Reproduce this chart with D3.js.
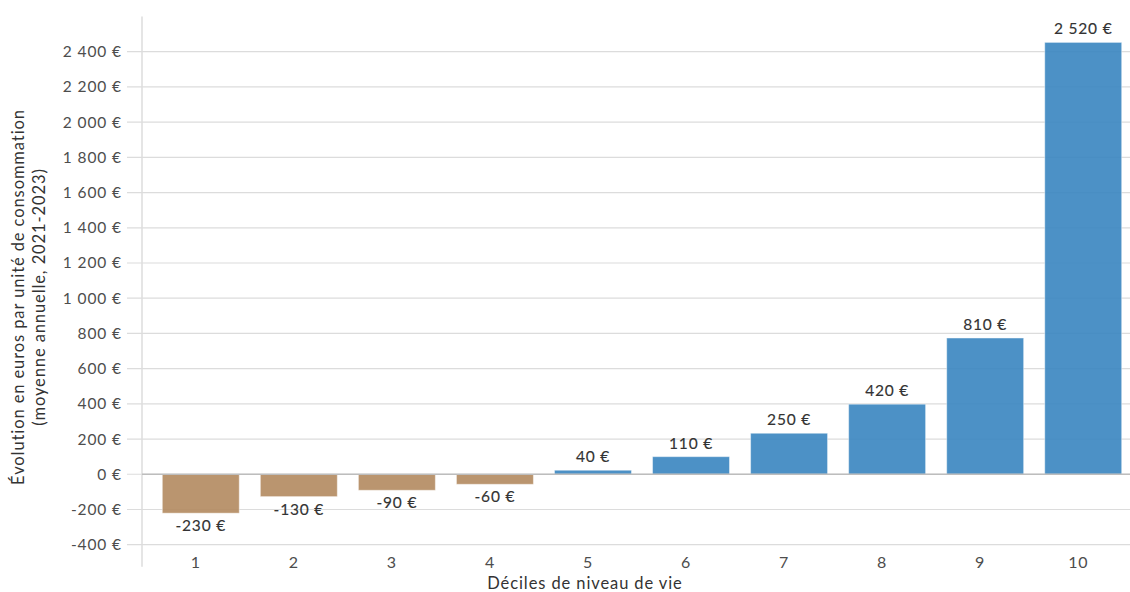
<!DOCTYPE html>
<html>
<head>
<meta charset="utf-8">
<script src="https://cdn.jsdelivr.net/npm/d3@7"></script>
<style>
  html, body { margin: 0; padding: 0; background: #fff; }
  svg { display: block; font-family: Lato, "Open Sans", sans-serif; }
</style>
</head>
<body>
<svg id="chart" width="1130" height="592"></svg>
<script>
// ---- data ----
const categories = ["1", "2", "3", "4", "5", "6", "7", "8", "9", "10"];
const barValues = [-221, -127, -91, -57, 23, 100, 233, 398, 774, 2453];
const labelValues = [-230, -130, -90, -60, 40, 110, 250, 420, 810, 2520];
const yTicks = [-400, -200, 0, 200, 400, 600, 800, 1000, 1200, 1400, 1600, 1800, 2000, 2200, 2400];
const yTitleLines = ["Évolution en euros par unité de consommation", "(moyenne annuelle, 2021-2023)"];
const xTitle = "Déciles de niveau de vie";

// ---- setup ----
const W = 1130, H = 592;
const svg = d3.select("#chart");
const locale = d3.formatLocale({ decimal: ",", thousands: "\u00a0", grouping: [3], currency: ["", ""], minus: "-" });
const fmt = v => locale.format(",")(v) + "\u00a0€";

const x = d3.scaleBand().domain(categories).range([142, 1142]).paddingInner(0.215).paddingOuter(0.207);
const y = d3.scaleLinear().domain([-525, 2600]).range([566.7, 16.5]);

// gridlines
svg.append("g").selectAll("line").data(yTicks).join("line")
  .attr("x1", 127).attr("x2", W)
  .attr("y1", d => y(d)).attr("y2", d => y(d))
  .attr("stroke", "#dcdcdc").attr("stroke-width", 1.2);

// y tick labels
svg.append("g").selectAll("text").data(yTicks).join("text")
  .attr("x", 122).attr("y", d => y(d) + 5.5)
  .attr("text-anchor", "end")
  .attr("font-size", 15.5).attr("letter-spacing", 0.9).attr("fill", "#4d4d4d")
  .text(d => fmt(d));

// vertical axis line
svg.append("line").attr("x1", 142).attr("x2", 142)
  .attr("y1", y(2600)).attr("y2", y(-525))
  .attr("stroke", "#dcdcdc").attr("stroke-width", 1.5);

// bars
svg.append("g").selectAll("rect").data(barValues).join("rect")
  .attr("x", (d, i) => x(categories[i]))
  .attr("width", x.bandwidth())
  .attr("y", d => y(Math.max(0, d)))
  .attr("height", d => Math.abs(y(d) - y(0)))
  .attr("fill", d => d < 0 ? "#b38a5f" : "#3985c0")
  .attr("fill-opacity", 0.9)
  .attr("stroke", "#ffffff").attr("stroke-opacity", 0.45).attr("stroke-width", 1);

// zero line
svg.append("line").attr("x1", 142).attr("x2", W)
  .attr("y1", y(0)).attr("y2", y(0))
  .attr("stroke", "#bdbdbd").attr("stroke-width", 1.5);

// value labels
svg.append("g").selectAll("text").data(labelValues).join("text")
  .attr("x", (d, i) => x(categories[i]) + x.bandwidth() / 2)
  .attr("y", (d, i) => barValues[i] < 0 ? y(barValues[i]) + 18 : y(barValues[i]) - 8)
  .attr("text-anchor", "middle")
  .attr("font-size", 15.5).attr("letter-spacing", 0.8).attr("fill", "#333")
  .attr("stroke", "#333").attr("stroke-width", 0.15)
  .text(d => fmt(d));

// x tick labels
svg.append("g").selectAll("text").data(categories).join("text")
  .attr("x", d => x(d) + x.bandwidth() / 2 - 5)
  .attr("y", 568)
  .attr("text-anchor", "middle")
  .attr("font-size", 16).attr("letter-spacing", 0.8).attr("fill", "#4d4d4d")
  .text(d => d);

// x title
svg.append("text").attr("x", 585).attr("y", 589)
  .attr("text-anchor", "middle").attr("font-size", 16.5).attr("letter-spacing", 0.9).attr("fill", "#333")
  .text(xTitle);

// y title
yTitleLines.forEach((t, i) => {
  svg.append("text")
    .attr("transform", `translate(${24 + i * 21},297) rotate(-90)`)
    .attr("text-anchor", "middle").attr("font-size", 16.5).attr("letter-spacing", 0.9).attr("fill", "#333")
    .text(t);
});
</script>
</body>
</html>
